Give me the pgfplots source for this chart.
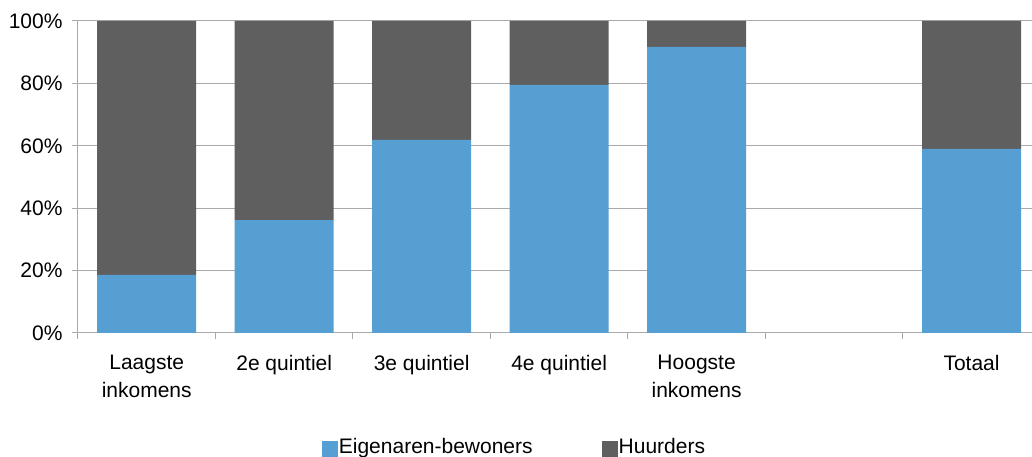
\documentclass[border=0pt]{standalone}
\usepackage{pgfplots}
\pgfplotsset{compat=1.18}
\usepackage{fontspec}
\setmainfont{Liberation Sans}
\definecolor{eig}{RGB}{86,159,211}
\definecolor{huur}{RGB}{95,95,95}
\definecolor{gridc}{RGB}{170,170,170}
\begin{document}
\begin{tikzpicture}
\begin{axis}[
  name=a,
  scale only axis,
  width=954pt, height=312pt,
  xmin=-0.5, xmax=6.44,
  ymin=0, ymax=100,
  ybar stacked,
  bar width=0.72,
  axis x line*=bottom, axis y line*=left,
  axis line style={gridc, line width=1pt},
  ymajorgrids, grid style={gridc, line width=1pt},
  ytick={0,20,40,60,80,100},
  yticklabels={0\%,20\%,40\%,60\%,80\%,100\%},
  xtick={0,1,2,3,4,5,6},
  xticklabels={Laagste\\inkomens,2e quintiel,3e quintiel,4e quintiel,Hoogste\\inkomens,,Totaal},
  minor xtick={-0.5,0.5,1.5,2.5,3.5,4.5,5.5},
  major x tick style={draw=none},
  minor x tick style={gridc, line width=1pt},
  major y tick style={gridc, line width=1pt},
  tick align=outside,
  major tick length=6pt, minor tick length=6pt,
  ticklabel style={font=\fontsize{21}{28}\selectfont, text=black},
  xticklabel style={align=center, yshift=-13pt},
  yticklabel style={xshift=-6pt},
  legend style={at={(0.457,-0.365)}, anchor=center, draw=none, legend columns=2,
    font=\fontsize{21}{24}\selectfont, /tikz/every even column/.append style={column sep=68pt},
    nodes={inner sep=1pt}},
  legend image code/.code={\fill[#1] (0pt,-10pt) rectangle (16pt,6pt);},
]
\addplot[fill=eig, draw=none] coordinates {(0,18.6) (1,36.2) (2,61.9) (3,79.5) (4,91.7) (6,59.0)};
\addplot[fill=huur, draw=none] coordinates {(0,81.4) (1,63.8) (2,38.1) (3,20.5) (4,8.3) (6,41.0)};
\legend{Eigenaren-bewoners, Huurders}
\end{axis}
\pgfresetboundingbox
\path (-78pt,-124pt) rectangle (954pt,333pt);
\end{tikzpicture}
\end{document}
